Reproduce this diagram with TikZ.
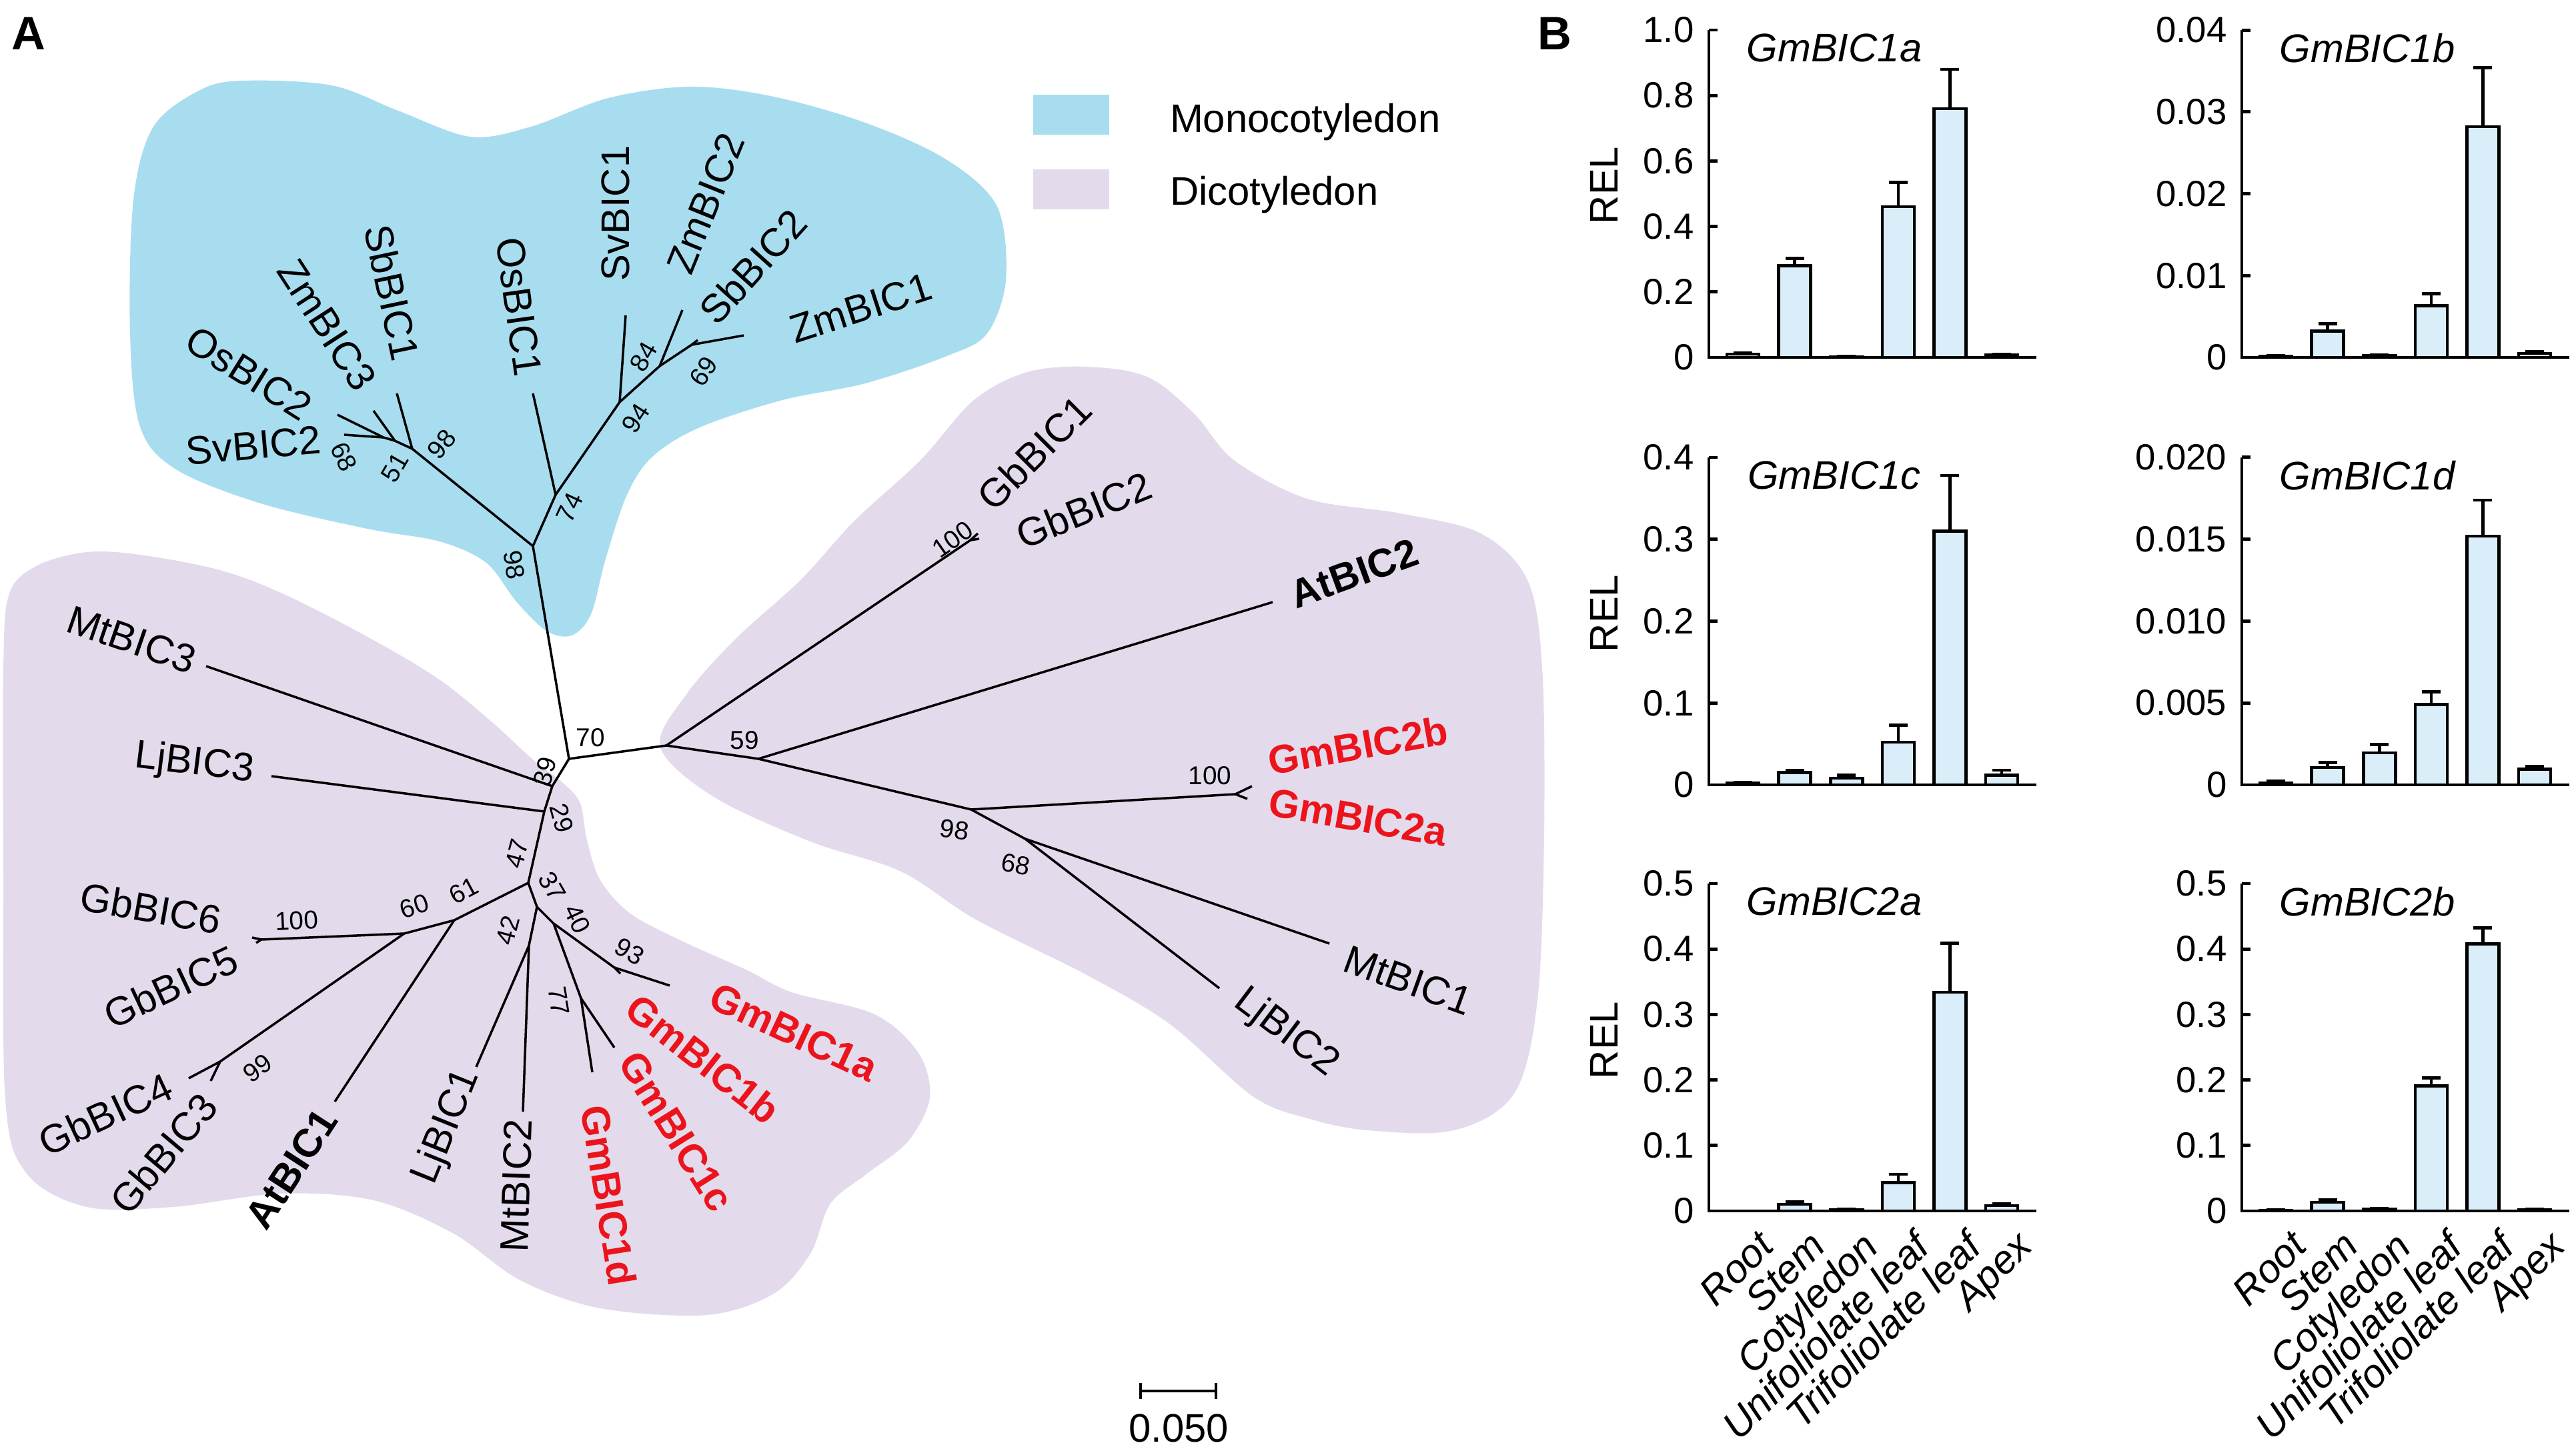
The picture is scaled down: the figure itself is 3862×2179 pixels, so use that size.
\documentclass[tikz,border=0pt]{standalone}
\usepackage{fontspec}
\setmainfont{Liberation Sans}
\usetikzlibrary{positioning}
\definecolor{monofill}{RGB}{168,221,240}
\definecolor{dicofill}{RGB}{227,219,236}
\definecolor{barfill}{RGB}{218,238,250}
\definecolor{gmred}{RGB}{236,20,28}
\tikzset{
  branch/.style={line width=1pt},
  leaf/.style={inner sep=0pt, font=\fontsize{17}{20}\selectfont},
  atleaf/.style={leaf, font=\fontsize{17}{20}\selectfont\bfseries},
  gmleaf/.style={atleaf, text=gmred},
  boot/.style={inner sep=0pt, font=\fontsize{11}{13}\selectfont},
  legbox/.style={minimum width=1.13cm, minimum height=0.59cm, inner sep=0pt},
  legtext/.style={inner sep=0pt, font=\fontsize{17}{20}\selectfont},
  panel/.style={inner sep=0pt, font=\fontsize{20}{24}\selectfont\bfseries},
  chartaxis/.style={line width=1.4pt},
  relbar/.style={line width=1.3pt, fill=barfill},
  errbar/.style={line width=1.3pt},
  ticklab/.style={anchor=east, inner sep=0pt, font=\fontsize{15.5}{18}\selectfont},
  charttitle/.style={inner sep=0pt, font=\fontsize{17}{20}\selectfont\itshape},
  tissue/.style={anchor=north east, rotate=45, inner sep=0pt, font=\fontsize{17}{20}\selectfont\itshape},
  ylab/.style={rotate=90, inner sep=0pt, font=\fontsize{17}{20}\selectfont},
}
% #1 name, #2 zero point, #3 ymax, #4 ticks, #5 title, #6 bars (value/error)
\newcommand{\relchart}[6]{%
  \begin{scope}[shift={#2}]
    \draw[chartaxis] (0,-491) -- (0,0) -- (491,0);
    \foreach \t/\l [count=\k] in {#4}{
      \draw[chartaxis] (0,{-\t*491/#3}) -- ++(13,0);
      \node[ticklab] (#1t\k) at (-22,{-\t*491/#3}) {\l};
    }
    \foreach \v/\e [count=\k] in {#6}{
      \pgfmathsetmacro\xc{51+(\k-1)*77.6}
      \pgfmathsetmacro\yt{-\v*491/#3}
      \pgfmathsetmacro\ye{-(\v+\e)*491/#3}
      \draw[errbar] (\xc,\yt) -- (\xc,\ye) (\xc-14,\ye) -- (\xc+14,\ye);
      \filldraw[relbar] (\xc-24,0) rectangle (\xc+24,\yt);
    }
    \node[charttitle] (#1title) at (188,-464) {#5};
  \end{scope}}

\begin{document}
\begin{tikzpicture}[x=0.01cm, y=-0.01cm]
\useasboundingbox (0,0) rectangle (3862,2179);

% clade backgrounds
\fill[monofill] plot[smooth cycle, tension=0.55] coordinates {
  (300,135) (365,121) (497,128) (597,166) (705,205) (796,190) (912,147)
  (1036,130) (1160,145) (1300,185) (1420,240) (1495,310) (1508,420)
  (1480,500) (1422,533) (1297,575) (1173,600) (1049,641) (978,685)
  (940,742) (908,838) (886,921) (857,953) (819,946) (774,902) (729,844)
  (659,812) (551,793) (391,755) (264,704) (210,640) (195,500) (200,300) (230,190)};
\fill[dicofill] plot[smooth cycle, tension=0.55] coordinates {
  (14,890) (56,848) (130,828) (210,832) (330,855) (430,893) (560,960)
  (660,1020) (740,1085) (800,1140) (845,1175) (870,1205) (880,1260)
  (900,1320) (945,1370) (1020,1410) (1120,1455) (1187,1488) (1311,1521)
  (1377,1579) (1394,1646) (1361,1712) (1300,1760) (1245,1805) (1215,1880)
  (1160,1940) (1060,1972) (900,1962) (780,1920) (680,1850) (560,1800)
  (420,1790) (260,1810) (130,1810) (40,1760) (8,1650) (5,1300) (5,1000)};
\fill[dicofill] plot[smooth cycle, tension=0.55] coordinates {
  (990,1120) (1030,1040) (1105,956) (1200,870) (1281,781) (1380,690)
  (1460,600) (1540,558) (1630,550) (1720,565) (1790,620) (1850,690)
  (1960,748) (2100,770) (2220,800) (2290,870) (2312,1000) (2315,1250)
  (2305,1500) (2270,1640) (2180,1695) (2050,1695) (1960,1677) (1878,1644)
  (1754,1536) (1629,1462) (1463,1379) (1351,1307) (1215,1262) (1070,1195)};

% legend
\node[legbox, fill=monofill] (monobox) at (1606,172) {};
\node[legbox, fill=dicofill] (dicobox) at (1606,284) {};
\node[legtext, anchor=base west] (monotext) at ([xshift=0.9cm, yshift=0.04cm]monobox.south east) {Monocotyledon};
\node[legtext, anchor=base west] (dicotext) at ([xshift=0.9cm, yshift=0.07cm]dicobox.south east) {Dicotyledon};

\node[panel] (pA) at (43,50) {A};
\node[panel] (pB) at (2331,50) {B};

% inner nodes
\coordinate (root) at (853,1138);
\coordinate (m98) at (799,819);
\coordinate (m74) at (833,742);
\coordinate (m94) at (929,603);
\coordinate (m84) at (989,549);
\coordinate (m69) at (1037,517);
\coordinate (m98b) at (618,673);
\coordinate (m51) at (592,661);
\coordinate (m68) at (575,656);
\coordinate (d39) at (828,1179);
\coordinate (d29) at (816,1217);
\coordinate (d47) at (792,1324);
\coordinate (d61) at (681,1380);
\coordinate (d60) at (606,1400);
\coordinate (d100) at (392,1409);
\coordinate (d99) at (330,1592);
\coordinate (d37) at (805,1360);
\coordinate (d42) at (793,1418);
\coordinate (d40) at (830,1385);
\coordinate (d93) at (921,1451);
\coordinate (d77) at (871,1497);
\coordinate (r70) at (999,1118);
\coordinate (r100) at (1455,810);
\coordinate (r59) at (1137,1138);
\coordinate (r98) at (1456,1214);
\coordinate (r100b) at (1852,1191);
\coordinate (r68) at (1537,1258);

% leaf tips
\coordinate (tOsBIC1) at (799,590);
\coordinate (tSvBIC1) at (938,473);
\coordinate (tZmBIC2) at (1023,465);
\coordinate (tSbBIC2) at (1046,510);
\coordinate (tZmBIC1) at (1115,503);
\coordinate (tSbBIC1) at (595,590);
\coordinate (tZmBIC3) at (560,616);
\coordinate (tOsBIC2) at (506,622);
\coordinate (tSvBIC2) at (516,652);
\coordinate (tMtBIC3) at (309,999);
\coordinate (tLjBIC3) at (407,1164);
\coordinate (tGbBIC6) at (378,1406);
\coordinate (tGbBIC5) at (384,1414);
\coordinate (tGbBIC4) at (283,1617);
\coordinate (tGbBIC3) at (316,1621);
\coordinate (tAtBIC1) at (502,1652);
\coordinate (tLjBIC1) at (714,1600);
\coordinate (tMtBIC2) at (784,1667);
\coordinate (tGmBIC1a) at (1004,1478);
\coordinate (tGmBIC1b) at (930,1460);
\coordinate (tGmBIC1c) at (921,1571);
\coordinate (tGmBIC1d) at (888,1608);
\coordinate (tGbBIC1) at (1466,800);
\coordinate (tGbBIC2) at (1468,808);
\coordinate (tAtBIC2) at (1908,903);
\coordinate (tGmBIC2b) at (1877,1179);
\coordinate (tGmBIC2a) at (1870,1198);
\coordinate (tMtBIC1) at (1993,1415);
\coordinate (tLjBIC2) at (1828,1482);

% branches
\foreach \a/\b in {root/m98, m98/m74, m74/tOsBIC1, m74/m94, m94/tSvBIC1,
    m94/m84, m84/tZmBIC2, m84/m69, m69/tSbBIC2, m69/tZmBIC1,
    m98/m98b, m98b/tSbBIC1, m98b/m51, m51/tZmBIC3, m51/m68,
    m68/tOsBIC2, m68/tSvBIC2,
    root/d39, d39/tMtBIC3, d39/d29, d29/tLjBIC3, d29/d47,
    d47/d61, d61/tAtBIC1, d61/d60, d60/d100, d100/tGbBIC6, d100/tGbBIC5,
    d60/d99, d99/tGbBIC4, d99/tGbBIC3,
    d47/d37, d37/d42, d42/tLjBIC1, d42/tMtBIC2, d37/d40,
    d40/d93, d93/tGmBIC1a, d93/tGmBIC1b, d40/d77, d77/tGmBIC1c, d77/tGmBIC1d,
    root/r70, r70/r100, r100/tGbBIC1, r100/tGbBIC2, r70/r59, r59/tAtBIC2,
    r59/r98, r98/r100b, r100b/tGmBIC2b, r100b/tGmBIC2a,
    r98/r68, r68/tMtBIC1, r68/tLjBIC2}
  \draw[branch] (\a) -- (\b);

% taxa
\foreach \n/\p/\r in {SvBIC2/{(380,668)}/5, OsBIC2/{(373,560)}/-32,
    ZmBIC3/{(490,487)}/-57, SbBIC1/{(588,439)}/-78, OsBIC1/{(778,460)}/-82,
    SvBIC1/{(923,320)}/90, ZmBIC2/{(1058,305)}/68, SbBIC2/{(1129,400)}/48,
    ZmBIC1/{(1290,462)}/18, MtBIC3/{(197,959)}/-19, LjBIC3/{(291,1146)}/-7,
    GbBIC6/{(226,1362)}/-10, GbBIC5/{(256,1480)}/25, GbBIC4/{(158,1671)}/25,
    GbBIC3/{(245,1730)}/50, LjBIC1/{(670,1690)}/68, MtBIC2/{(774,1778)}/88,
    GbBIC1/{(1551,679)}/45, GbBIC2/{(1625,765)}/22, MtBIC1/{(2111,1470)}/-20,
    LjBIC2/{(1928,1549)}/-37}
  \node[leaf, rotate=\r] (\n) at \p {\n};
\node[atleaf, rotate=57] (AtBIC1) at (437,1753) {AtBIC1};
\node[atleaf, rotate=20] (AtBIC2) at (2030,860) {AtBIC2};
\foreach \n/\p/\r in {GmBIC1a/{(1190,1548)}/-25, GmBIC1b/{(1054,1588)}/-38,
    GmBIC1c/{(1014,1697)}/-58, GmBIC1d/{(913,1793)}/-81,
    GmBIC2b/{(2036,1118)}/10, GmBIC2a/{(2036,1226)}/-10}
  \node[gmleaf, rotate=\r] (\n) at \p {\n};

% bootstrap values
\foreach \v/\p/\r [count=\k] in {68/{(516,685)}/-65, 51/{(592,701)}/60,
    98/{(662,666)}/50, 98/{(771,847)}/-80, 74/{(854,761)}/65, 94/{(953,627)}/57,
    84/{(965,535)}/60, 69/{(1055,557)}/55, 70/{(885,1106)}/0, 39/{(817,1157)}/75,
    29/{(842,1227)}/-75, 47/{(775,1280)}/75, 37/{(828,1329)}/-60,
    40/{(866,1378)}/-65, 42/{(761,1395)}/75, 93/{(944,1427)}/-30,
    77/{(838,1501)}/-80, 61/{(695,1336)}/28, 60/{(621,1359)}/18,
    100/{(445,1381)}/3, 99/{(386,1602)}/35, 59/{(1116,1110)}/0,
    100/{(1428,809)}/35, 100/{(1814,1163)}/0, 98/{(1431,1244)}/-8,
    68/{(1523,1296)}/-10}
  \node[boot, rotate=\r] (bs\k) at \p {\v};

% scale bar
\coordinate (sbl) at (1710,2086);
\coordinate (sbr) at (1823,2086);
\draw[line width=1.1pt] (sbl) -- (sbr);
\draw[line width=1.1pt] ([yshift=0.12cm]sbl) -- ([yshift=-0.12cm]sbl);
\draw[line width=1.1pt] ([yshift=0.12cm]sbr) -- ([yshift=-0.12cm]sbr);
\node[legtext] (sbtext) at (1767,2142) {0.050};

% expression charts
\relchart{ca}{(2562,536)}{1}{0/0, 0.2/0.2, 0.4/0.4, 0.6/0.6, 0.8/0.8, 1/1.0}{GmBIC1a}
  {0.01/0.004, 0.28/0.022, 0.002/0.001, 0.46/0.075, 0.76/0.12, 0.007/0.003}
\relchart{cb}{(3361,536)}{0.04}{0/0, 0.01/0.01, 0.02/0.02, 0.03/0.03, 0.04/0.04}{GmBIC1b}
  {0.0001/0.0001, 0.0032/0.0009, 0.0002/0.0001, 0.0063/0.0015, 0.0282/0.0072, 0.0005/0.0002}
\relchart{cc}{(2562,1177)}{0.4}{0/0, 0.1/0.1, 0.2/0.2, 0.3/0.3, 0.4/0.4}{GmBIC1c}
  {0.002/0.001, 0.015/0.003, 0.008/0.004, 0.052/0.021, 0.31/0.068, 0.012/0.006}
\relchart{cd}{(3361,1177)}{0.02}{0/0, 0.005/0.005, 0.01/0.010, 0.015/0.015, 0.02/0.020}{GmBIC1d}
  {0.0001/0.0001, 0.00106/0.0003, 0.00196/0.0005, 0.0049/0.0008, 0.0152/0.0022, 0.00094/0.0002}
\relchart{ce}{(2562,1816)}{0.5}{0/0, 0.1/0.1, 0.2/0.2, 0.3/0.3, 0.4/0.4, 0.5/0.5}{GmBIC2a}
  {0/0, 0.01/0.004, 0.002/0.0005, 0.043/0.013, 0.334/0.075, 0.008/0.003}
\relchart{cf}{(3361,1816)}{0.5}{0/0, 0.1/0.1, 0.2/0.2, 0.3/0.3, 0.4/0.4, 0.5/0.5}{GmBIC2b}
  {0.001/0.0003, 0.0133/0.0035, 0.003/0.001, 0.191/0.012, 0.408/0.024, 0.002/0.0005}

\node[ylab] (rel1) at (2405,278) {REL};
\node[ylab] (rel2) at (2405,920) {REL};
\node[ylab] (rel3) at (2405,1560) {REL};

\foreach \ox/\c in {2562/e, 3361/f}
  \foreach \lab [count=\k] in {Root, Stem, Cotyledon, Unifoliolate leaf, Trifoliolate leaf, Apex}
    \node[tissue] (x\c\k) at ({\ox+51+(\k-1)*77.6+20}, 1842) {\lab};
\end{tikzpicture}
\end{document}
